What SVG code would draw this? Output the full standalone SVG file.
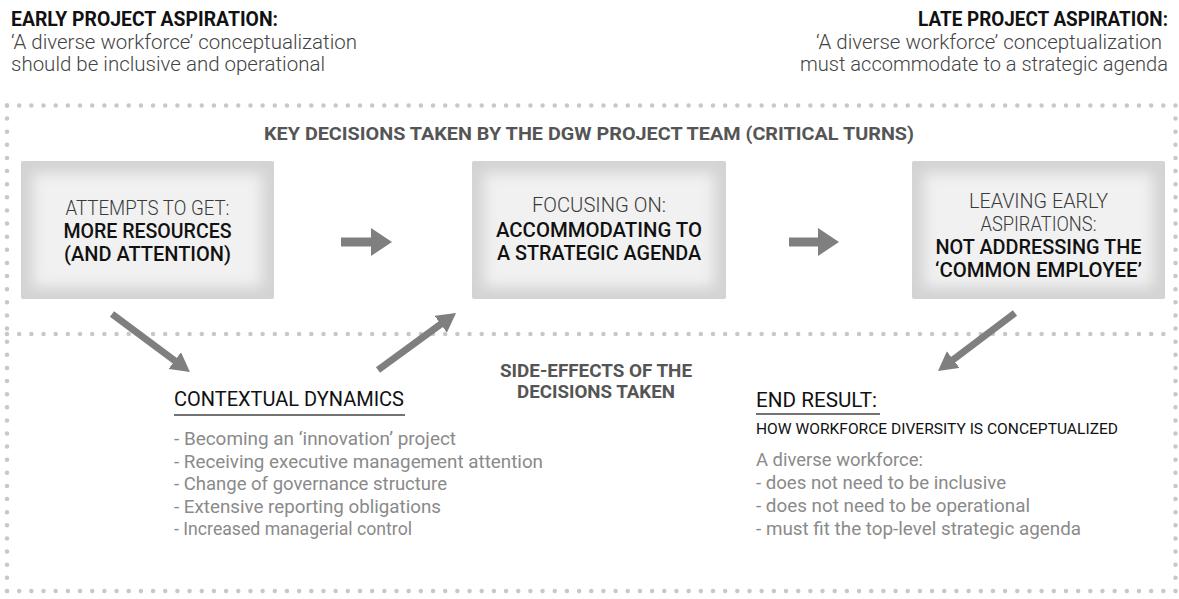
<svg xmlns="http://www.w3.org/2000/svg" width="1179" height="599" viewBox="0 0 1179 599">
<style>
  text { font-family: Roboto, "Open Sans", "Liberation Sans", sans-serif; }
  .hb { font-weight: 700; font-size: 19.5px; fill: #111; }
  .hl { font-weight: 300; font-size: 19.5px; fill: #444; }
  .ttl { font-weight: 700; font-size: 19.2px; fill: #555; text-anchor: middle; }
  .ttl2 { font-weight: 700; font-size: 18.5px; fill: #555; text-anchor: middle; }
  .bl { font-weight: 300; font-size: 20px; fill: #3a3a3a; text-anchor: middle; }
  .bb { font-weight: 500; font-size: 20px; fill: #111; text-anchor: middle; }
  .sec { font-weight: 400; font-size: 20.5px; fill: #111; }
  .sub { font-weight: 400; font-size: 15.4px; fill: #111; }
  .li { font-weight: 400; font-size: 18px; fill: #8a8a8a; }
  .dot { fill: none; stroke: #c8c8c8; stroke-width: 4.5; stroke-linecap: round; }
  .boxbg { fill: #d3d3d3; }
  .boxhi { fill: #f1f1f1; }
  .arr { stroke: #7f7f7f; fill: none; }
  .ul { stroke: #444; stroke-width: 1.3; }
</style>
<defs>
  <filter id="soft" x="-20%" y="-20%" width="140%" height="140%">
    <feGaussianBlur stdDeviation="7"/>
  </filter>
  <marker id="headH" markerUnits="userSpaceOnUse" markerWidth="21" markerHeight="28" viewBox="0 0 21 28" refX="1" refY="14" orient="auto">
    <path d="M0,0 L21,14 L0,28 z" fill="#7f7f7f"/>
  </marker>
  <marker id="headD" markerUnits="userSpaceOnUse" markerWidth="19" markerHeight="21" viewBox="0 0 19 21" refX="1" refY="10.5" orient="auto">
    <path d="M0,0 L19,10.5 L0,21 z" fill="#7f7f7f"/>
  </marker>
  <clipPath id="c1"><rect x="21" y="161" width="253" height="138" rx="2"/></clipPath>
  <clipPath id="c2"><rect x="472" y="161" width="254" height="138" rx="2"/></clipPath>
  <clipPath id="c3"><rect x="912" y="161" width="253" height="138" rx="2"/></clipPath>
</defs>

<g id="frame">
  <path class="dot" d="M7,105.5 H1175.5" stroke-dasharray="0 12.172"/>
  <path class="dot" d="M7,334 H1175.5" stroke-dasharray="0 12.172"/>
  <path class="dot" d="M7,591 H1175.5" stroke-dasharray="0 12.172"/>
  <path class="dot" d="M7,105.5 V591" stroke-dasharray="0 13.12"/>
  <path class="dot" d="M1175.5,105.5 V591" stroke-dasharray="0 13.12"/>
</g>

<g id="early-aspiration">
  <text class="hb" x="11" y="26" textLength="267" lengthAdjust="spacingAndGlyphs">EARLY PROJECT ASPIRATION:</text>
  <text class="hl" x="11" y="49" textLength="346" lengthAdjust="spacingAndGlyphs">‘A diverse workforce’ conceptualization</text>
  <text class="hl" x="11" y="71" textLength="314" lengthAdjust="spacingAndGlyphs">should be inclusive and operational</text>
</g>

<g id="late-aspiration">
  <text class="hb" x="918" y="26" textLength="250" lengthAdjust="spacingAndGlyphs">LATE PROJECT ASPIRATION:</text>
  <text class="hl" x="816" y="49" textLength="346" lengthAdjust="spacingAndGlyphs">‘A diverse workforce’ conceptualization</text>
  <text class="hl" x="800" y="71" textLength="368" lengthAdjust="spacingAndGlyphs">must accommodate to a strategic agenda</text>
</g>

<g id="title-key-decisions">
  <text class="ttl" x="589" y="140" textLength="650" lengthAdjust="spacingAndGlyphs">KEY DECISIONS TAKEN BY THE DGW PROJECT TEAM (CRITICAL TURNS)</text>
</g>

<g id="box-attempts">
  <rect class="boxbg" x="21" y="161" width="253" height="138" rx="2"/>
  <rect class="boxhi" x="33" y="173" width="229" height="114" filter="url(#soft)" clip-path="url(#c1)"/>
  <text class="bl" x="147.5" y="215" textLength="164" lengthAdjust="spacingAndGlyphs">ATTEMPTS TO GET:</text>
  <text class="bb" x="147.5" y="238" textLength="168" lengthAdjust="spacingAndGlyphs">MORE RESOURCES</text>
  <text class="bb" x="147.5" y="261" textLength="167" lengthAdjust="spacingAndGlyphs">(AND ATTENTION)</text>
</g>

<g id="box-focusing">
  <rect class="boxbg" x="472" y="161" width="254" height="138" rx="2"/>
  <rect class="boxhi" x="484" y="173" width="230" height="114" filter="url(#soft)" clip-path="url(#c2)"/>
  <text class="bl" x="599" y="212" textLength="134" lengthAdjust="spacingAndGlyphs">FOCUSING ON:</text>
  <text class="bb" x="599" y="237" textLength="206" lengthAdjust="spacingAndGlyphs">ACCOMMODATING TO</text>
  <text class="bb" x="599" y="260" textLength="204" lengthAdjust="spacingAndGlyphs">A STRATEGIC AGENDA</text>
</g>

<g id="box-leaving">
  <rect class="boxbg" x="912" y="161" width="253" height="138" rx="2"/>
  <rect class="boxhi" x="924" y="173" width="229" height="114" filter="url(#soft)" clip-path="url(#c3)"/>
  <text class="bl" x="1038.5" y="208" textLength="139" lengthAdjust="spacingAndGlyphs">LEAVING EARLY</text>
  <text class="bl" x="1038.5" y="231" textLength="116" lengthAdjust="spacingAndGlyphs">ASPIRATIONS:</text>
  <text class="bb" x="1038.5" y="254" textLength="206" lengthAdjust="spacingAndGlyphs">NOT ADDRESSING THE</text>
  <text class="bb" x="1038.5" y="277" textLength="207" lengthAdjust="spacingAndGlyphs">‘COMMON EMPLOYEE’</text>
</g>

<g id="title-side-effects">
  <text class="ttl2" x="596" y="377" textLength="192" lengthAdjust="spacingAndGlyphs">SIDE-EFFECTS OF THE</text>
  <text class="ttl2" x="596" y="398" textLength="158" lengthAdjust="spacingAndGlyphs">DECISIONS TAKEN</text>
</g>

<g id="contextual-dynamics">
  <text class="sec" x="174" y="406" textLength="230" lengthAdjust="spacingAndGlyphs">CONTEXTUAL DYNAMICS</text>
  <line class="ul" x1="174" y1="415" x2="405" y2="415"/>
  <text class="li" x="174" y="445" textLength="282" lengthAdjust="spacingAndGlyphs">- Becoming an ‘innovation’ project</text>
  <text class="li" x="174" y="467.5" textLength="369" lengthAdjust="spacingAndGlyphs">- Receiving executive management attention</text>
  <text class="li" x="174" y="490" textLength="273" lengthAdjust="spacingAndGlyphs">- Change of governance structure</text>
  <text class="li" x="174" y="512.5" textLength="267" lengthAdjust="spacingAndGlyphs">- Extensive reporting obligations</text>
  <text class="li" x="174" y="535" textLength="238" lengthAdjust="spacingAndGlyphs">- Increased managerial control</text>
</g>

<g id="end-result">
  <text class="sec" x="756" y="407" textLength="121" lengthAdjust="spacingAndGlyphs">END RESULT:</text>
  <line class="ul" x1="756" y1="414" x2="880" y2="414"/>
  <text class="sub" x="756" y="434" textLength="362" lengthAdjust="spacingAndGlyphs">HOW WORKFORCE DIVERSITY IS CONCEPTUALIZED</text>
  <text class="li" x="756" y="466" textLength="167" lengthAdjust="spacingAndGlyphs">A diverse workforce:</text>
  <text class="li" x="756" y="489" textLength="250" lengthAdjust="spacingAndGlyphs">- does not need to be inclusive</text>
  <text class="li" x="756" y="512" textLength="274" lengthAdjust="spacingAndGlyphs">- does not need to be operational</text>
  <text class="li" x="756" y="535" textLength="325" lengthAdjust="spacingAndGlyphs">- must fit the top-level strategic agenda</text>
</g>

<g id="connectors">
  <line class="arr" x1="341" y1="242" x2="372" y2="242" stroke-width="9" marker-end="url(#headH)"/>
  <line class="arr" x1="789" y1="242" x2="819" y2="242" stroke-width="9" marker-end="url(#headH)"/>
  <line class="arr" x1="112" y1="314" x2="175.5" y2="361.2" stroke-width="7" marker-end="url(#headD)"/>
  <line class="arr" x1="378" y1="370" x2="441.5" y2="323.6" stroke-width="7" marker-end="url(#headD)"/>
  <line class="arr" x1="1015" y1="313" x2="952.4" y2="360.2" stroke-width="7" marker-end="url(#headD)"/>
</g>
</svg>
